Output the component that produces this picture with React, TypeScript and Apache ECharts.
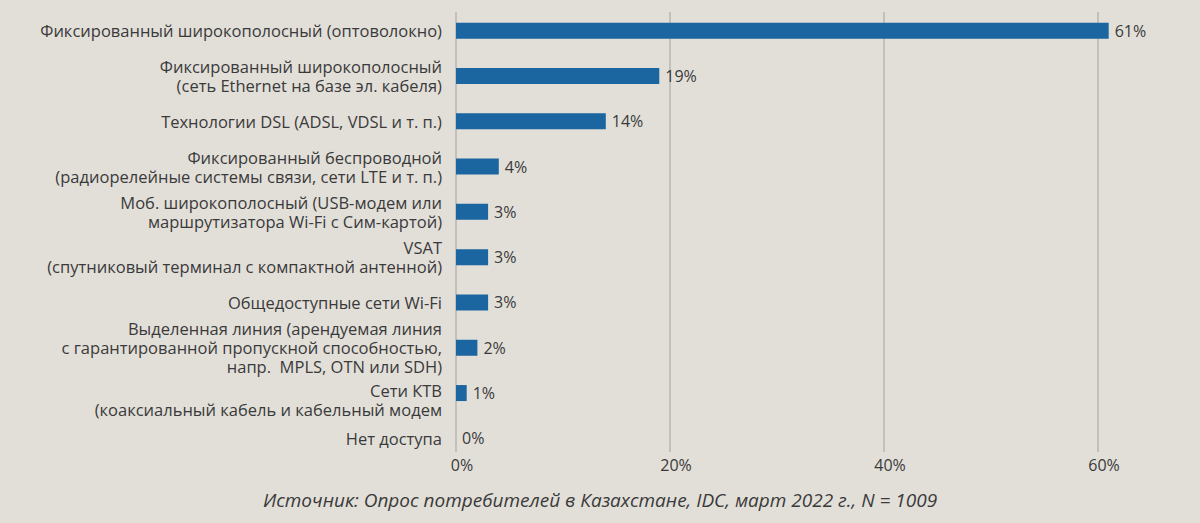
import React, { useEffect, useRef } from "react";
import * as echarts from "echarts";

const categories: string[] = [
  "Фиксированный широкополосный (оптоволокно)",
  "Фиксированный широкополосный\n(сеть Ethernet на базе эл. кабеля)",
  "Технологии DSL (ADSL, VDSL и т. п.)",
  "Фиксированный беспроводной\n(радиорелейные системы связи, сети LTE и т. п.)",
  "Моб. широкополосный (USB-модем или\nмаршрутизатора Wi-Fi с Сим-картой)",
  "VSAT\n(спутниковый терминал с компактной антенной)",
  "Общедоступные сети Wi-Fi",
  "Выделенная линия (арендуемая линия\nс гарантированной пропускной способностью,\nнапр.  MPLS, OTN или SDH)",
  "Сети КТВ\n(коаксиальный кабель и кабельный модем",
  "Нет доступа",
];

const values: number[] = [61, 19, 14, 4, 3, 3, 3, 2, 1, 0];

const xTicks: number[] = [0, 20, 40, 60];

const sourceText = "Источник: Опрос потребителей в Казахстане, IDC, март 2022 г., N = 1009";

const FONT = "'Open Sans', 'Noto Sans', sans-serif";
const TEXT = "#3a3a3a";

export default function App() {
  const ref = useRef<HTMLDivElement>(null);

  useEffect(() => {
    document.body.style.margin = "0";
    if (!ref.current) return;
    const chart = echarts.init(ref.current, undefined, { renderer: "svg" });
    const left = 456;
    const right = 1200 - 1098;
    const baseLabel = {
      color: TEXT,
      fontSize: 16.5,
      lineHeight: 19,
      fontFamily: FONT,
    };
    chart.setOption({
      animation: false,
      backgroundColor: "#e2dfd9",
      textStyle: { fontFamily: FONT },
      title: {
        text: sourceText,
        left: "center",
        top: 485,
        textStyle: {
          fontFamily: FONT,
          fontStyle: "italic",
          fontWeight: "normal",
          fontSize: 19,
          color: TEXT,
        },
      },
      grid: [
        { left, right, top: 12, bottom: 523 - 452 },
        { left, right, top: 8, bottom: 523 - 461 },
      ],
      xAxis: [
        {
          gridIndex: 0,
          type: "value",
          min: xTicks[0],
          max: xTicks[xTicks.length - 1],
          interval: xTicks[1] - xTicks[0],
          axisLine: { show: false },
          axisTick: { show: false },
          splitLine: { show: true, lineStyle: { color: "#b9b5b1", width: 1.5 } },
          axisLabel: {
            formatter: (v: number) => `${v}%`,
            color: TEXT,
            fontSize: 16,
            fontFamily: FONT,
            margin: 5,
            padding: [0, 0, 0, 12],
          },
        },
        {
          gridIndex: 1,
          type: "value",
          min: xTicks[0],
          max: xTicks[xTicks.length - 1],
          show: false,
        },
      ],
      yAxis: [
        {
          gridIndex: 0,
          type: "category",
          data: categories,
          inverse: true,
          show: false,
        },
        {
          gridIndex: 1,
          type: "category",
          data: categories,
          inverse: true,
          axisLine: { show: false },
          axisTick: { show: false },
          axisLabel: {
            ...baseLabel,
            margin: 14,
            align: "right",
            formatter: (v: string, i: number) => {
              if (i === 8) {
                const [a, b] = v.split("\n");
                return `{s| }\n{n|${a}}\n{n|${b}}`;
              }
              return v;
            },
            rich: {
              s: { ...baseLabel, fontSize: 6, lineHeight: 14 },
              n: { ...baseLabel },
            },
          },
        },
      ],
      series: [
        {
          type: "bar",
          xAxisIndex: 1,
          yAxisIndex: 1,
          data: values,
          barWidth: 16,
          clip: false,
          itemStyle: { color: "#1b66a0" },
          label: {
            show: true,
            position: "right",
            distance: 6,
            formatter: (p: any) => `${p.value}%`,
            color: TEXT,
            fontSize: 16,
            fontFamily: FONT,
          },
        },
      ],
    });
    return () => chart.dispose();
  }, []);

  return <div ref={ref} style={{ width: 1200, height: 523 }} />;
}
